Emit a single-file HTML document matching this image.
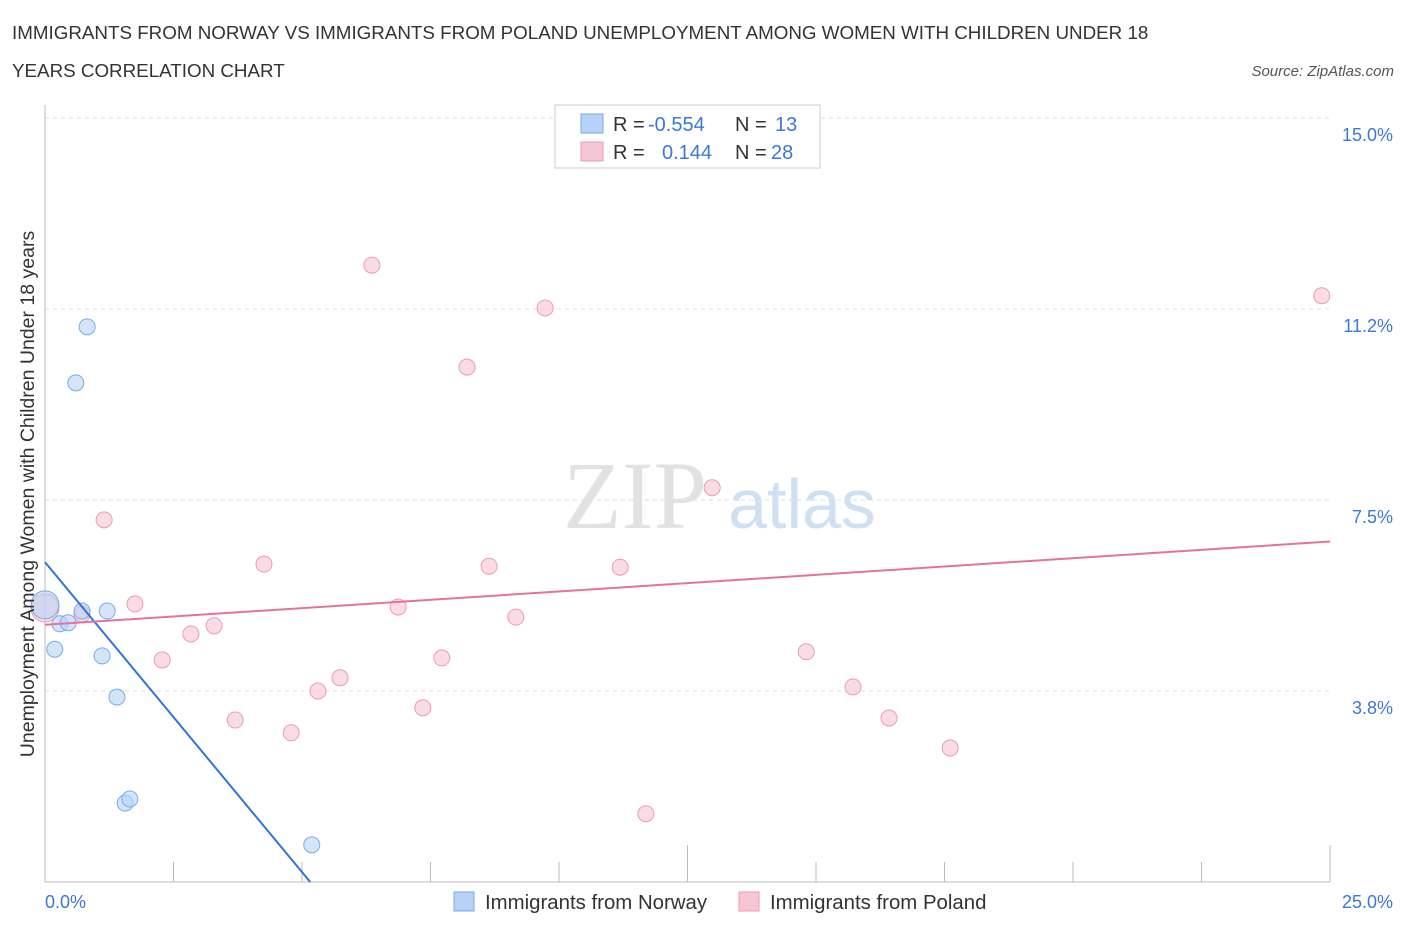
<!DOCTYPE html>
<html><head><meta charset="utf-8">
<style>
body{margin:0;background:#fff;font-family:"Liberation Sans",sans-serif;}
svg{display:block}
</style></head>
<body>
<svg id="chart" width="1406" height="930">
<text x="12" y="39" font-size="18.8" fill="#333">IMMIGRANTS FROM NORWAY VS IMMIGRANTS FROM POLAND UNEMPLOYMENT AMONG WOMEN WITH CHILDREN UNDER 18</text>
<text x="12" y="77" font-size="18.8" fill="#333">YEARS CORRELATION CHART</text>
<text x="1394" y="76" font-size="15" fill="#555" font-style="italic" text-anchor="end">Source: ZipAtlas.com</text>
<text x="635" y="528" font-size="96" fill="#e2e2e2" font-family="Liberation Serif,serif" text-anchor="middle">ZIP</text>
<text x="802" y="528" font-size="70" fill="#cfe0f3" text-anchor="middle">atlas</text>
<g id="grid"></g>
<g id="axes"></g>
<g id="marks"></g>
<text x="34" y="494" font-size="19.5" fill="#333" text-anchor="middle" transform="rotate(-90 34 494)">Unemployment Among Women with Children Under 18 years</text>
<g>
<rect x="555" y="105" width="265" height="63" fill="#fff" stroke="#ccc"/>
<rect x="581" y="114" width="22" height="19" fill="#b6d3f5" stroke="#7aaae6"/>
<rect x="581" y="142" width="22" height="19" fill="#f8c5d4" stroke="#eb9cb3"/>
<text x="613" y="131" font-size="20" fill="#333">R =</text>
<text x="648" y="131" font-size="20" fill="#3b78d8">-0.554</text>
<text x="735" y="131" font-size="20" fill="#333">N =</text>
<text x="775" y="131" font-size="20" fill="#3b78d8">13</text>
<text x="613" y="159" font-size="20" fill="#333">R =</text>
<text x="662" y="159" font-size="20" fill="#3b78d8">0.144</text>
<text x="735" y="159" font-size="20" fill="#333">N =</text>
<text x="771" y="159" font-size="20" fill="#3b78d8">28</text>
</g>
<g>
<rect x="454" y="892" width="20" height="19" fill="#b6d3f5" stroke="#7aaae6"/>
<text x="485" y="909" font-size="20.4" fill="#333">Immigrants from Norway</text>
<rect x="739" y="892" width="20" height="19" fill="#f8c5d4" stroke="#eb9cb3"/>
<text x="770" y="909" font-size="20.4" fill="#333">Immigrants from Poland</text>
</g>
</svg>
<script>
const yTicks=[3.75,7.5,11.25,15];
const yTickLabels=["3.8%","7.5%","11.2%","15.0%"];
const xTickLabels=["0.0%","25.0%"];
const norwayX=[0,0.19,0.29,0.45,0.60,0.72,0.82,1.11,1.21,1.40,1.56,1.65,5.19];
const norwayY=[5.44,4.57,5.07,5.09,9.80,5.32,10.90,4.44,5.32,3.63,1.55,1.63,0.73];
const polandX=[0,1.15,1.75,2.28,2.84,3.29,3.70,4.26,4.79,5.31,5.74,6.36,6.87,7.35,7.72,8.21,8.64,9.16,9.73,11.19,11.69,12.98,14.81,15.72,16.42,17.61,24.84,0.72];
const polandY=[5.38,7.11,5.46,4.36,4.87,5.03,3.18,6.24,2.93,3.75,4.01,12.11,5.40,3.42,4.40,10.11,6.20,5.20,11.27,6.18,1.34,7.74,4.52,3.83,3.22,2.63,11.51,5.26];
const norwayTrend=[6.28,-1.217];
const polandTrend=[5.05,0.0654];
const NS="http://www.w3.org/2000/svg";
const X0=45,X1=1330,Y0=882,Y1=118;
const sx=v=>X0+v/25*(X1-X0);
const sy=v=>Y0-v/15*(Y0-Y1);
function mk(t,a,p){const e=document.createElementNS(NS,t);for(const k in a)e.setAttribute(k,a[k]);p.appendChild(e);return e;}
const grid=document.getElementById('grid'),axes=document.getElementById('axes'),marks=document.getElementById('marks');
yTicks.forEach((t,i)=>{
 const l=mk('line',{x1:X0,x2:X1,y1:sy(t),y2:sy(t),stroke:'#ddd','stroke-dasharray':'4 4'},grid);
 
 
 const tx=mk('text',{x:1393,y:sy(t)+23,'font-size':18,fill:'#3b78d8','text-anchor':'end'},grid);
 tx.textContent=yTickLabels[i];
 
 
});
mk('line',{x1:X0,x2:X0,y1:105,y2:Y0,stroke:'#bbb'},axes);
mk('line',{x1:X0,x2:X1,y1:Y0,y2:Y0,stroke:'#bbb'},axes);
for(let i=0;i<=10;i++){
 const x=sx(i*2.5);
 const l=mk('line',{x1:x,x2:x,y1:(i==5||i==10)?845:862,y2:Y0,stroke:'#bbb'},axes);
 
 
}
[[0,X0,'start'],[25,1393,'end']].forEach((d,i)=>{
 const tx=mk('text',{x:d[1],y:908,'font-size':18,fill:'#3b78d8','text-anchor':d[2]},axes);
 tx.textContent=xTickLabels[i];
 
 
});
function pts(xs,ys,fill,stroke,name){
 xs.forEach((x,i)=>{
  const c=mk('circle',{cx:sx(x),cy:sy(ys[i]),r:(x===0?14:8),fill:fill,'fill-opacity':0.6,stroke:stroke,'stroke-width':1},marks);
  
  
 });
}
pts(polandX,polandY,'#f8c5d4','#eb9cb3','poland-point');
pts(norwayX,norwayY,'#b6d3f5','#7aaae6','norway-point');
const nEnd=-norwayTrend[0]/norwayTrend[1];
const nl=mk('line',{x1:sx(0),y1:sy(norwayTrend[0]),x2:sx(nEnd),y2:sy(0),stroke:'#2f74d8','stroke-width':2},marks);


const pl=mk('line',{x1:sx(0),y1:sy(polandTrend[0]),x2:sx(25),y2:sy(polandTrend[0]+25*polandTrend[1]),stroke:'#e8719a','stroke-width':2},marks);


</script>
</body></html>
